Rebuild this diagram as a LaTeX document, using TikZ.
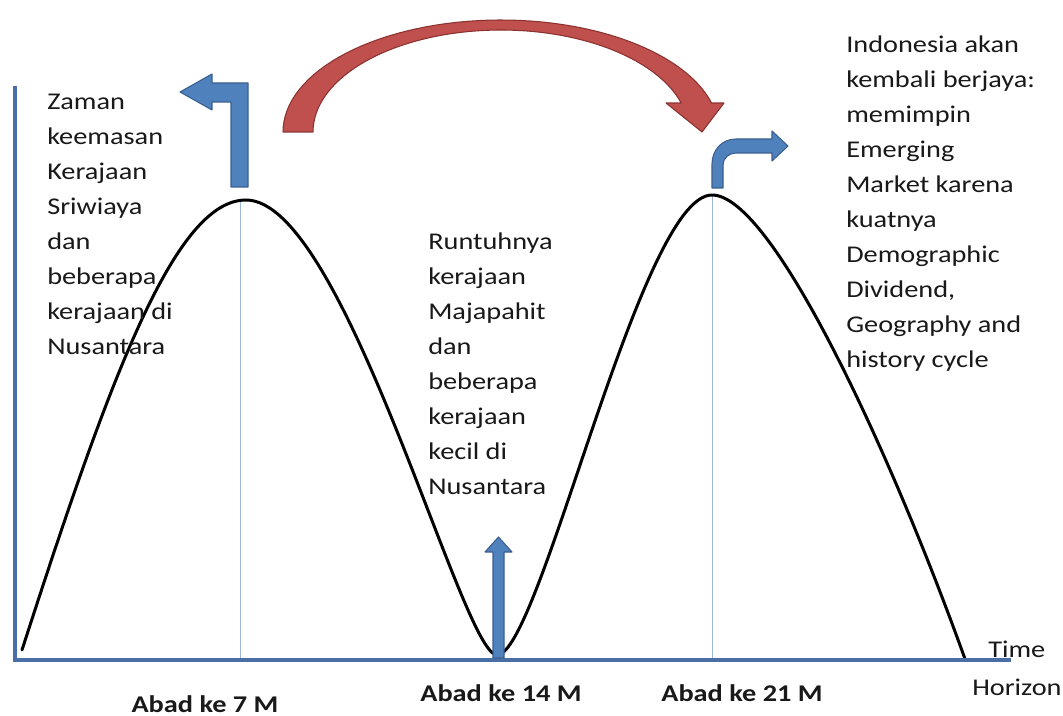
\documentclass[tikz,border=0pt]{standalone}
\usepackage{fontspec}
\setmainfont{Carlito}[FakeStretch=1.18]
\definecolor{axisblue}{HTML}{4A6EA6}
\definecolor{guideblue}{HTML}{9DB9E0}
\definecolor{arrowblue}{HTML}{4F81BD}
\definecolor{arrowedge}{HTML}{3A5F8F}
\definecolor{arrowred}{HTML}{C0504D}
\definecolor{rededge}{HTML}{8B3230}
\newcommand\mylines[1]{\parbox[t]{10cm}{\raggedright\fontsize{18}{26.25}\selectfont #1}}
\begin{document}
\begin{tikzpicture}[x=0.75pt,y=-0.75pt,
  axisline/.style={draw=axisblue, line width=3pt},
  guide/.style={draw=guideblue, line width=0.6pt},
  wave/.style={draw=black, line width=2.25pt, line cap=round, line join=round},
  bluearrow/.style={fill=arrowblue, draw=arrowedge, line width=0.8pt, line join=round},
  redarrow/.style={fill=arrowred, draw=rededge, line width=0.8pt, line join=round},
  lbl/.style={anchor=base west, inner sep=0pt, text=black!90, font=\fontsize{18}{26.25}\selectfont},
  axlbl/.style={anchor=base, inner sep=0pt, text=black!90, font=\fontsize{18}{22}\selectfont\bfseries}]
\useasboundingbox (0,0) rectangle (1063,716);
\fill[white] (0,0) rectangle (1063,716);

% axes and key points
\coordinate (O) at (15,660);
\coordinate (Ytop) at (15,86);
\coordinate (Xend) at (1011,660);
\coordinate (S) at (22,650);
\coordinate (P1) at (246,200);
\coordinate (G1) at (240,201);
\coordinate (T) at (497,655);
\coordinate (P2) at (712,195);
\coordinate (E) at (965,659);

% guides
\draw[guide] (G1) -- (G1 |- O);
\draw[guide] (P2) -- (P2 |- O);

% wave
\draw[wave] (S) .. controls (110,377) and (175,200) .. (P1)
  .. controls (345,200) and (462,655) .. (T)
  .. controls (540,655) and (640,195) .. (P2)
  .. controls (772,195) and (890,450) .. (E);

\draw[axisline] (Ytop) -- (O) -- (Xend);

% blue arrows
\draw[bluearrow] (231,187) -- (248,187) -- (248,83) -- (212,83) -- (212,74) -- (180,92)
  -- (212,110) -- (212,102) -- (231,102) -- cycle;
\draw[bluearrow] (712,188) -- (712,164) .. controls (712,150) and (722,139) .. (736,139)
  -- (772,139) -- (772,131) -- (788,146) -- (772,161) -- (772,153) -- (736,153)
  .. controls (729,153) and (723,158) .. (723,165) -- (723,188) -- cycle;
\draw[bluearrow] (493,658) -- (504,658) -- (504,552) -- (512,552) -- (498.5,537) -- (485,552)
  -- (493,552) -- cycle;

% red curved arrow
\draw[redarrow] plot[domain=180:15, samples=60] ({501+218*cos(\x)}, {132-112*sin(\x)})
  -- (724,103) -- (702,132) -- (666,103)
  -- plot[domain=16.5:180, samples=60] ({501+188*cos(\x)}, {132-102*sin(\x)}) -- cycle;

% texts
\node[lbl] (left) at (47,110) {\mylines{Zaman\\keemasan\\Kerajaan\\Sriwiaya\\dan\\beberapa\\kerajaan di\\Nusantara}};
\node[lbl] (mid) at (428,250) {\mylines{Runtuhnya\\kerajaan\\Majapahit\\dan\\beberapa\\kerajaan\\kecil di\\Nusantara}};
\node[lbl] (right) at (846,53) {\mylines{Indonesia akan\\kembali berjaya:\\memimpin\\Emerging\\Market karena\\kuatnya\\Demographic\\Dividend,\\Geography and\\history cycle}};

\node[axlbl] (a7) at (205,712) {Abad ke 7 M};
\node[axlbl] (a14) at (501,701) {Abad ke 14 M};
\node[axlbl] (a21) at (742,701) {Abad ke 21 M};
\node[lbl] (time) at (988,657) {Time};
\node[lbl] (hor) at (972,695) {Horizon};
\end{tikzpicture}
\end{document}
